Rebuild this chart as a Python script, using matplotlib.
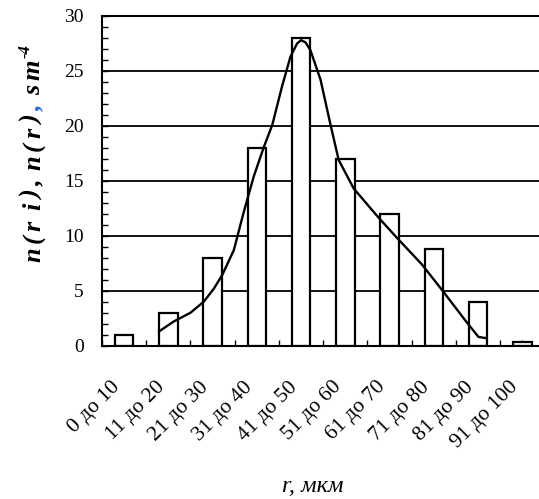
import matplotlib
matplotlib.use("Agg")
import matplotlib.pyplot as plt
import matplotlib.transforms as mtransforms
import numpy as np

# Size-class histogram: counts per class n(r_i)
classes = ["0 до 10", "11 до 20", "21 до 30", "31 до 40", "41 до 50",
           "51 до 60", "61 до 70", "71 до 80", "81 до 90", "91 до 100"]
counts = [1.0, 3.0, 8.0, 18.0, 28.0, 17.0, 12.0, 8.8, 4.0, 0.3]

# Smoothed distribution n(r): radius in micrometres and density
curve_r = [12.9, 16.2, 20.0, 23.0, 25.3, 27.2, 29.8, 32.0, 34.3, 36.6, 38.5,
           40.7, 42.6, 44.1, 45.0, 46.0, 47.1, 49.4, 51.6, 53.5, 56.9, 62.2,
           66.7, 72.3, 76.8, 82.5, 85.1, 86.6]
curve_n = [1.3, 2.2, 3.0, 4.0, 5.2, 6.45, 8.7, 12.1, 15.4, 18.1, 20.1,
           23.6, 26.3, 27.5, 27.8, 27.6, 26.9, 24.2, 20.2, 16.9, 14.3, 11.8,
           9.8, 7.4, 5.1, 2.1, 0.8, 0.7]

SERIF = "Liberation Serif"
W, H, DPI = 539, 499, 100

fig = plt.figure(figsize=(W / DPI, H / DPI), dpi=DPI)
ax = fig.add_axes([102 / W, 1 - 345.7 / H, 442.4 / W, 329.7 / H])

x = np.arange(len(classes))
ax.bar(x, counts, width=0.42, facecolor="white", edgecolor="black",
       linewidth=1.6, zorder=2)

# class i spans r = 10*i .. 10*i + 10, centred at 10*i + 5
curve_x = (np.asarray(curve_r) - 5.0) / 10.0
ax.plot(curve_x, curve_n, color="black", linewidth=1.7, zorder=3)

ax.set_xlim(-0.5, 9.5)
ax.set_ylim(0, 30)

ax.set_yticks(np.arange(0, 31, 5))
ax.set_yticks(np.arange(0, 31, 1), minor=True)
ax.set_yticklabels([str(v) for v in range(0, 31, 5)], fontfamily=SERIF,
                   fontsize=14)
ax.yaxis.grid(True, which="major", color="black", linewidth=1.3, zorder=1)
ax.set_axisbelow(True)

ax.set_xticks(x)
ax.set_xticks(np.arange(-0.5, 9.6, 1.0), minor=True)
ax.set_xticklabels(classes, rotation=45, ha="right", va="top",
                   fontfamily=SERIF, fontsize=15.5)
shift = mtransforms.ScaledTranslation(-5 / DPI, -2 / DPI, fig.dpi_scale_trans)
for lab in ax.get_xticklabels():
    lab.set_transform(lab.get_transform() + shift)

ax.tick_params(axis="both", which="both", direction="in", length=4,
               width=1.0, color="black")
ax.tick_params(axis="y", which="both", right=False, pad=13)
ax.tick_params(axis="x", which="both", top=False, pad=23)

for side in ("left", "bottom", "top"):
    ax.spines[side].set_linewidth(1.5)
    ax.spines[side].set_color("black")
ax.spines["right"].set_visible(False)

# x-axis title
fig.text(313 / W, 1 - 487 / H, "r, мкм", fontfamily=SERIF, style="italic",
         fontsize=17.5, ha="center", va="center")

# y-axis title, set glyph by glyph with open tracking so that the
# second comma can carry its own colour
fig.canvas.draw()
renderer = fig.canvas.get_renderer()
BLUE = "#2a6cdc"
glyphs = [(c, "black") for c in "n(r i), n(r)"] + [(",", BLUE)] + \
         [(c, "black") for c in " sm"]
track = 4.0
space_adv = 6.0
base_x = 40.0
pos_y = H - 262.0
for ch, color in glyphs:
    if ch == " ":
        pos_y += space_adv
        continue
    t = fig.text(base_x / W, pos_y / H, ch, color=color,
                 fontfamily=SERIF, fontweight="bold", style="italic",
                 fontsize=19, rotation=90, rotation_mode="anchor",
                 ha="left", va="baseline")
    pos_y += t.get_window_extent(renderer).height + track
# superscript exponent
fig.text((base_x - 10) / W, (pos_y - 2) / H, "-4", color="black",
         fontfamily=SERIF, fontweight="bold", style="italic", fontsize=12,
         rotation=90, rotation_mode="anchor", ha="left", va="baseline")

fig.savefig("out.png", dpi=DPI)
